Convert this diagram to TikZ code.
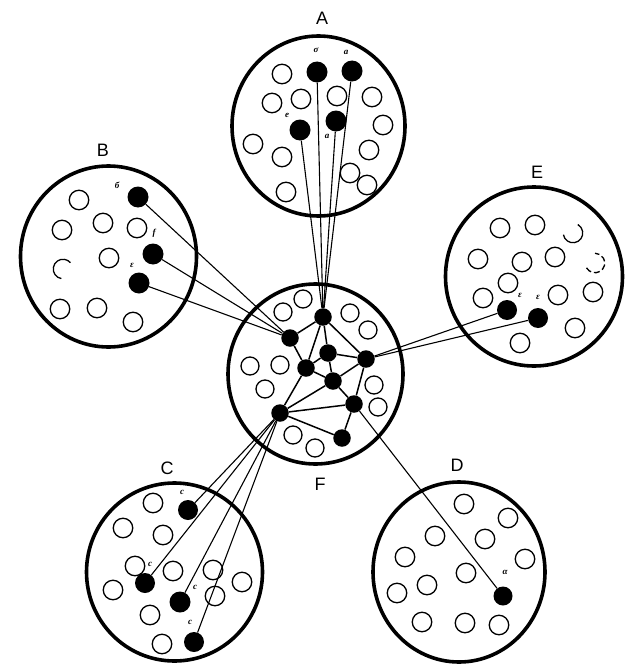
\documentclass[tikz,border=0pt]{standalone}
\usepackage{fontspec}
\setmainfont{Liberation Serif}
\newfontfamily\capfont{Liberation Sans}
\newfontfamily\labfont{Liberation Serif}
\begin{document}
\begin{tikzpicture}[x=1pt,y=-1pt,
  bigring/.style={line width=3.6pt},
  opencirc/.style={draw, circle, line width=1.3pt, minimum size=19.5pt, inner sep=0pt},
  brokencirc/.style={line width=1.3pt},
  dotA/.style={fill, circle, minimum size=21pt, inner sep=0pt},
  dotF/.style={fill, circle, minimum size=17.5pt, inner sep=0pt},
  conn/.style={line width=1.1pt},
  fedge/.style={line width=1.5pt},
  grp/.style={font=\capfont\fontsize{18}{20}\selectfont},
  lab/.style={font=\labfont\itshape\bfseries\fontsize{9}{10}\selectfont, inner sep=0pt}
]
\useasboundingbox (0,0) rectangle (627,669);
% big circles
\draw[bigring] (318.5,126) ellipse [x radius=86.5, y radius=90];
\draw[bigring] (108.5,256.5) ellipse [x radius=88, y radius=90.5];
\draw[bigring] (534,276.5) ellipse [x radius=88.5, y radius=89.5];
\draw[bigring] (174.5,572) ellipse [x radius=88, y radius=89];
\draw[bigring] (459,572) ellipse [x radius=86, y radius=90];
\draw[bigring] (315.5,374) ellipse [x radius=87.5, y radius=90];
% group labels
\node[grp] (lA) at (322,18) {A};
\node[grp] (lB) at (103,150) {B};
\node[grp] (lE) at (537,172) {E};
\node[grp] (lC) at (167,468) {C};
\node[grp] (lD) at (457,465) {D};
\node[grp] (lF) at (320,484) {F};
% ---- A open circles
\foreach \p [count=\i] in {(282,74),(272,103),(301,99),(337,96),(372,97),(383,125),(253,144),(282,157),(369,150),(350,173),(367,185),(286,192)}
  \node[opencirc] (oA\i) at \p {};
% ---- B open circles
\foreach \p [count=\i] in {(79,200),(62,230),(103,223),(137,228),(109,258),(60,309),(97,308),(133,322)}
  \node[opencirc] (oB\i) at \p {};
\draw[brokencirc] (63,269) ++(100:9.75) arc[start angle=100, end angle=320, radius=9.75];
% ---- E open circles
\foreach \p [count=\i] in {(500,228),(535,225),(478,259),(522,262),(555,257),(508,283),(558,295),(593,292),(483,298),(575,328),(520,343)}
  \node[opencirc] (oE\i) at \p {};
\draw[brokencirc] (573,233) ++(170:9.75) arc[start angle=170, end angle=-60, radius=9.75];
\draw[brokencirc, dash pattern=on 6pt off 3pt] (595,263) ++(150:9.75) arc[start angle=150, end angle=-90, radius=9.75];
% ---- C open circles
\foreach \p [count=\i] in {(153,503),(123,528),(163,535),(135,566),(173,571),(213,570),(242,582),(113,590),(215,596),(150,615),(162,644)}
  \node[opencirc] (oC\i) at \p {};
% ---- D open circles
\foreach \p [count=\i] in {(464,504),(508,518),(435,536),(485,539),(405,557),(525,559),(466,573),(427,585),(397,593),(422,622),(465,623),(499,625)}
  \node[opencirc] (oD\i) at \p {};
% ---- F open circles
\foreach \p [count=\i] in {(283,312),(303,299),(350,313),(368,330),(250,366),(280,365),(265,389),(374,385),(378,407),(293,435),(315,448)}
  \node[opencirc, minimum size=18pt] (oF\i) at \p {};
% ---- filled dots
\node[dotA] (a1) at (317,72) {};
\node[dotA] (a2) at (352,71) {};
\node[dotA] (a3) at (300,130) {};
\node[dotA] (a4) at (336,121) {};
\node[dotA] (b1) at (138,197) {};
\node[dotA] (b2) at (153,254) {};
\node[dotA] (b3) at (139,283) {};
\node[dotA, minimum size=20pt] (e1) at (507,310) {};
\node[dotA, minimum size=20pt] (e2) at (538,318) {};
\node[dotA, minimum size=20pt] (c1) at (188,510) {};
\node[dotA, minimum size=20pt] (c2) at (145,583) {};
\node[dotA, minimum size=21pt] (c3) at (180,602) {};
\node[dotA, minimum size=20pt] (c4) at (194,642) {};
\node[dotA, minimum size=19pt] (d1) at (503,596) {};
\node[dotF] (f1) at (323,317) {};
\node[dotF] (f2) at (290,338) {};
\node[dotF] (f3) at (328,353) {};
\node[dotF] (f4) at (366,359) {};
\node[dotF] (f5) at (306,368) {};
\node[dotF] (f6) at (333,381) {};
\node[dotF] (f7) at (354,404) {};
\node[dotF] (f8) at (280,413) {};
\node[dotF] (f9) at (342,438) {};
% ---- small labels
\node[lab] (ta1) at (316,50) {σ};
\node[lab] (ta2) at (346,52) {a};
\node[lab] (ta3) at (287,115) {e};
\node[lab] (ta4) at (327,136) {a};
\node[lab] (tb1) at (117,185) {б};
\node[lab] (tb2) at (154,233) {f};
\node[lab] (tb3) at (132,265) {ε};
\node[lab] (te1) at (520,295) {ε};
\node[lab] (te2) at (538,297) {ε};
\node[lab] (tc1) at (182,492) {c};
\node[lab] (tc2) at (150,564) {c};
\node[lab] (tc3) at (195,587) {c};
\node[lab] (tc4) at (190,622) {c};
\node[lab] (td1) at (505,572) {α};
% ---- connectors to F
\foreach \n in {a1,a2,a3,a4} \draw[conn] (\n) -- (f1);
\foreach \n in {b1,b2,b3} \draw[conn] (\n) -- (f2);
\foreach \n in {e1,e2} \draw[conn] (\n) -- (f4);
\foreach \n in {c1,c2,c3,c4} \draw[conn] (\n) -- (f8);
\draw[conn] (d1) -- (f7);
% ---- internal F network
\foreach \u/\v in {f1/f2,f1/f3,f1/f5,f1/f4,f2/f5,f3/f5,f3/f6,f5/f6,f3/f4,f4/f6,f4/f7,f6/f7,f5/f8,f6/f8,f7/f8,f8/f9,f7/f9}
  \draw[fedge] (\u) -- (\v);
\end{tikzpicture}
\end{document}
